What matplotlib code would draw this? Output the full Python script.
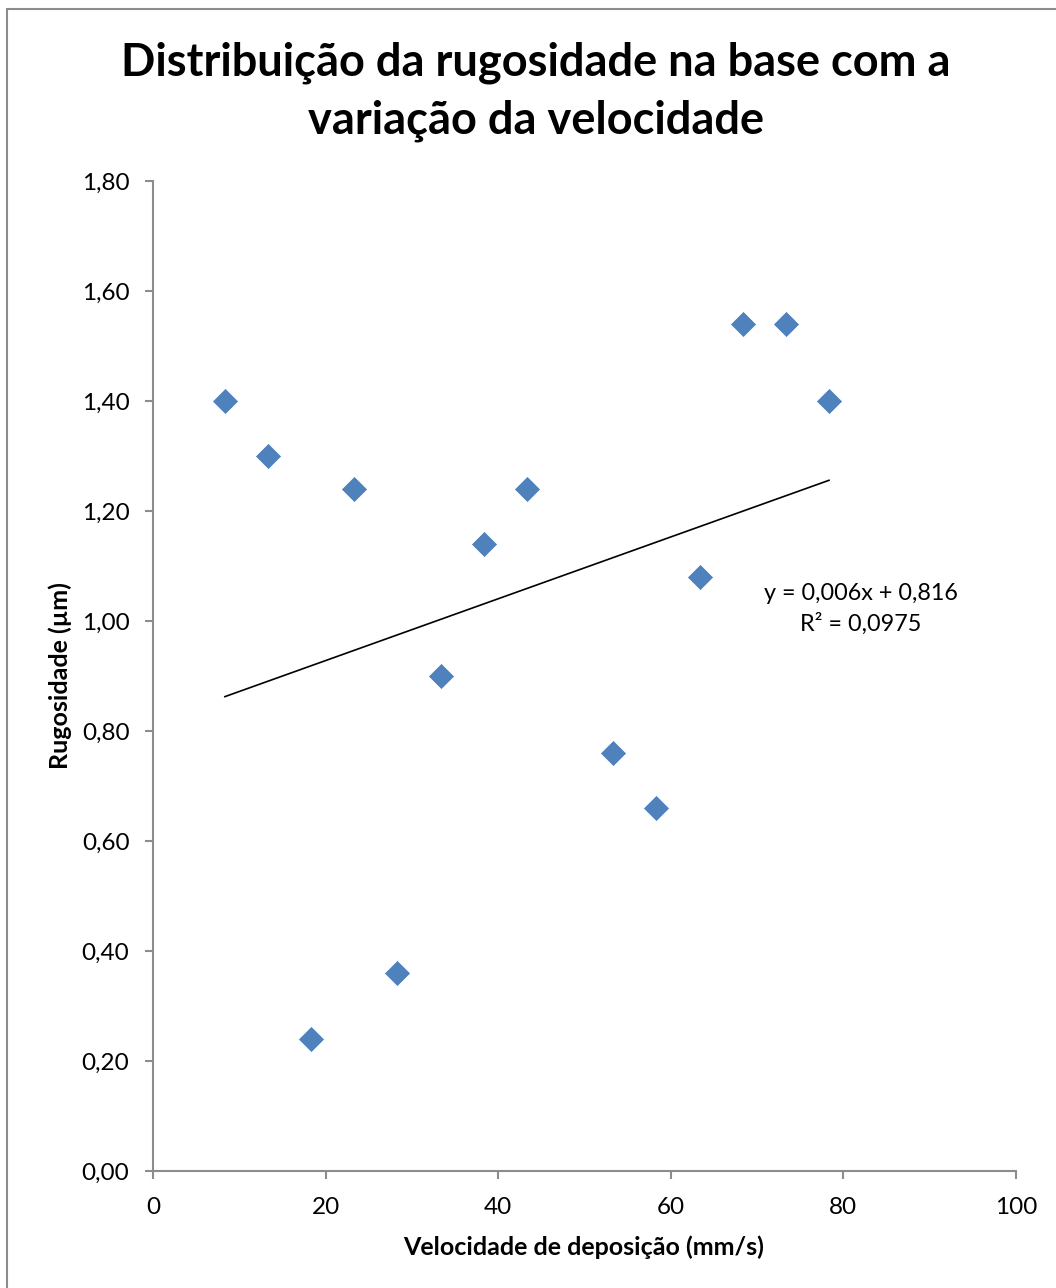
import numpy as np
import matplotlib.pyplot as plt
from matplotlib.patches import Rectangle

plt.rcParams['font.family'] = ['Lato', 'DejaVu Sans']

velocidade = [8.33, 13.33, 18.33, 23.33, 28.33, 33.33, 38.33, 43.33,
              53.33, 58.33, 63.33, 68.33, 73.33, 78.33]
rugosidade = [1.40, 1.30, 0.24, 1.24, 0.36, 0.90, 1.14, 1.24,
              0.76, 0.66, 1.08, 1.54, 1.54, 1.40]
x_ticks = [0, 20, 40, 60, 80, 100]
y_ticks = [0.0, 0.2, 0.4, 0.6, 0.8, 1.0, 1.2, 1.4, 1.6, 1.8]

fig = plt.figure(figsize=(10.56, 12.88), dpi=100)
ax = fig.add_axes([153/1056, 1 - 1171/1288, (1016-153)/1056, (1171-181)/1288])

# gray outer frame (cropped on right/bottom in the original)
fig.patches.append(Rectangle((7/1056, -0.05), 1.2, 1 - 9/1288 + 0.05,
                             transform=fig.transFigure, fill=False,
                             edgecolor='#8c8c8c', linewidth=1.5))

ax.scatter(velocidade, rugosidade, marker='D', s=150, color='#4F81BD',
           edgecolors='#4A7EBB', linewidths=0.5, zorder=3)

# linear trend line
coef = np.polyfit(velocidade, rugosidade, 1)
xs = np.array([velocidade[0], velocidade[-1]])
ax.plot(xs, np.polyval(coef, xs), color='black', linewidth=1.2, zorder=2)

ax.set_xlim(0, 100)
ax.set_ylim(0, 1.8)
ax.set_xticks(x_ticks)
ax.set_yticks(y_ticks)
ax.set_xticklabels([str(t) for t in x_ticks])
ax.set_yticklabels([f'{t:.2f}'.replace('.', ',') for t in y_ticks])
ax.tick_params(direction='out', length=6, width=1.5, color='#8c8c8c',
               labelsize=17.5)
ax.tick_params(axis='y', pad=11)
ax.tick_params(axis='x', pad=13)
for s in ['top', 'right']:
    ax.spines[s].set_visible(False)
for s in ['left', 'bottom']:
    ax.spines[s].set_color('#8c8c8c')
    ax.spines[s].set_linewidth(1.5)

fig.text(536/1056, 1 - 92/1288,
         'Distribuição da rugosidade na base com a\nvariação da velocidade',
         ha='center', va='center', fontsize=32.5, fontweight='bold',
         linespacing=1.45)
fig.text(60/1056, 1 - 676/1288, 'Rugosidade (µm)', rotation=90,
         ha='center', va='center', fontsize=18, fontweight='bold')
fig.text(584/1056, 1 - 1247/1288, 'Velocidade de deposição (mm/s)',
         ha='center', va='center', fontsize=18, fontweight='bold')
fig.text(861/1056, 1 - 609/1288, 'y = 0,006x + 0,816\nR² = 0,0975',
         ha='center', va='center', fontsize=16.8, linespacing=1.5)

fig.savefig('out.png', dpi=100)
